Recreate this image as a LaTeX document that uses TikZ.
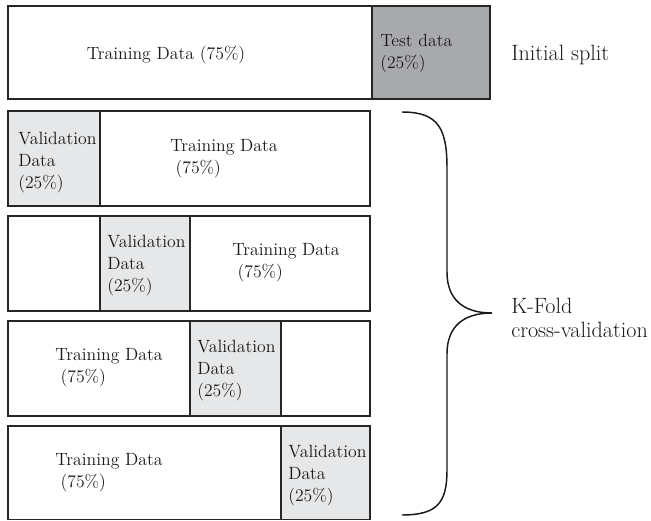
\documentclass[tikz,border=0pt]{standalone}
\definecolor{testgray}{HTML}{A7A9AC}
\definecolor{valgray}{HTML}{E6E7E8}
\begin{document}
\begin{tikzpicture}[x=0.75pt,y=-0.75pt]
\tikzset{
  cellline/.style={draw=black!85, line width=1.3pt},
  lbl/.style={font=\fontsize{13.3}{16.5}\selectfont, align=left, inner sep=0pt, anchor=west, text=black!90},
  biglbl/.style={font=\fontsize{16.6}{18}\selectfont, align=left, inner sep=0pt, anchor=west, text=black!90},
  bracepath/.style={draw=black!90, line width=1.1pt}
}
\useasboundingbox (0,0) rectangle (651,521);
% initial split
\draw[cellline, fill=white] (8,6) rectangle (372,99);
\draw[cellline, fill=testgray] (372,6) rectangle (490,99);
\node[lbl, anchor=center] (t0) at (166,55) {Training Data (75\%)};
\node[lbl] (s0) at (380,54) {Test data\\(25\%)};
\node[biglbl] (init) at (511,55) {Initial split};
% fold 1
\draw[cellline, fill=white] (8,111) rectangle (370,206);
\draw[cellline, fill=valgray] (8,111) rectangle (100,206);
\node[lbl] (v1) at (18,163) {Validation\\Data\\(25\%)};
\node[lbl] (t1) at (170,159) {Training Data\\\hspace*{4pt}(75\%)};
% fold 2
\draw[cellline, fill=white] (8,216) rectangle (370,311);
\draw[cellline, fill=valgray] (100,216) rectangle (190,311);
\node[lbl] (v2) at (107,266) {Validation\\Data\\(25\%)};
\node[lbl] (t2) at (232,263) {Training Data\\\hspace*{4pt}(75\%)};
% fold 3
\draw[cellline, fill=white] (8,321) rectangle (370,416);
\draw[cellline, fill=valgray] (190,321) rectangle (281,416);
\node[lbl] (t3) at (55,368) {Training Data\\\hspace*{4pt}(75\%)};
\node[lbl] (v3) at (197,371) {Validation\\Data\\(25\%)};
% fold 4
\draw[cellline, fill=white] (8,426) rectangle (370,519.5);
\draw[cellline, fill=valgray] (281,426) rectangle (370,519.5);
\node[lbl] (t4) at (55,473) {Training Data\\\hspace*{4pt}(75\%)};
\node[lbl] (v4) at (288,476) {Validation\\Data\\(25\%)};
% brace
\coordinate (btop) at (402,112);
\coordinate (btip) at (492,313);
\coordinate (bbot) at (402,515);
\draw[bracepath] (btop) .. controls (438,112) and (447,128) .. (447,168)
  -- (447,272) .. controls (447,300) and (464,313) .. (btip)
  .. controls (464,313) and (447,326) .. (447,354)
  -- (447,470) .. controls (447,502) and (438,515) .. (bbot);
\node[biglbl] (kf) at (511,318) {K-Fold\\cross-validation};
\end{tikzpicture}
\end{document}
